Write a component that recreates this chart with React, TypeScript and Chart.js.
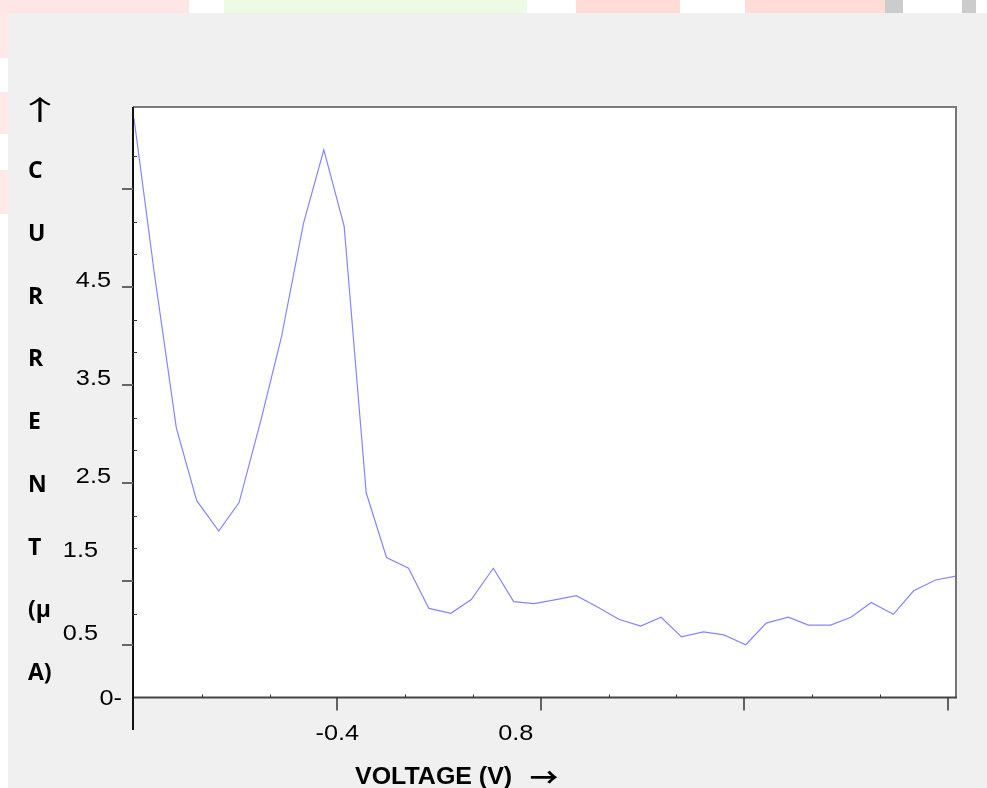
import React, { useEffect, useRef } from 'react';
import { Chart, registerables } from 'chart.js';

Chart.register(...registerables);

// ---- data ----
const voltageValues = [
  -1.6, -1.48, -1.35, -1.23, -1.1, -0.98, -0.85, -0.73, -0.6, -0.48,
  -0.36, -0.23, -0.11, 0.02, 0.14, 0.27, 0.39, 0.52, 0.64, 0.76,
  0.89, 1.01, 1.14, 1.26, 1.39, 1.51, 1.63, 1.76, 1.88, 2.01,
  2.13, 2.26, 2.38, 2.51, 2.63, 2.75, 2.88, 3.0, 3.13, 3.25,
];
const currentValues = [
  6.22, 4.64, 3.06, 2.32, 2.01, 2.3, 3.15, 3.99, 5.15, 5.9,
  5.12, 2.4, 1.74, 1.63, 1.22, 1.17, 1.31, 1.63, 1.29, 1.27,
  1.31, 1.35, 1.23, 1.11, 1.04, 1.13, 0.93, 0.98, 0.95, 0.85,
  1.07, 1.13, 1.05, 1.05, 1.13, 1.28, 1.16, 1.4, 1.51, 1.55,
];

const xMajorTickValues = [-1.6, -0.4, 0.8, 2.0, 3.2];
const xMinorTickValues = [-1.2, -0.8, 0.0, 0.4, 1.2, 1.6, 2.4, 2.8];
const xTickLabels = ['-0.4', '0.8'];
const xTickLabelValues = [-0.4, 0.8];

const yMajorTickValues = [5.5, 4.5, 3.5, 2.5, 1.5, 0.847];
const yMinorTickValues = [5.833, 5.167, 4.833, 4.167, 3.833, 3.167, 2.833, 2.167, 1.833, 1.167];
const yTickLabels = ['4.5', '3.5', '2.5', '1.5', '0.5', '0-'];
const yTickLabelValues = [4.5, 3.5, 2.5, 1.745, 0.898, 0.235];

const yTitleLetters = ['C', 'U', 'R', 'R', 'E', 'N', 'T', '(\u00b5', 'A)'];
const xTitle = 'VOLTAGE (V)';

// ---- styles ----
const xLabelShift = [0, -25];
const yLabelRightShift = [-23, -23, -23, -36, -36, -12];
const tickFont = '22px "Liberation Sans", Arial, sans-serif';

function drawText(
  ctx: CanvasRenderingContext2D,
  txt: string,
  x: number,
  y: number,
  font: string,
  align: CanvasTextAlign,
  sx: number,
  baseline: CanvasTextBaseline = 'alphabetic'
) {
  ctx.save();
  ctx.translate(x, y);
  ctx.scale(sx, 1);
  ctx.font = font;
  ctx.textAlign = align;
  ctx.textBaseline = baseline;
  ctx.fillStyle = '#000';
  ctx.fillText(txt, 0, 0);
  ctx.restore();
}

const decorPlugin = {
  id: 'decor',
  beforeDraw(chart: any) {
    const { ctx, chartArea: a } = chart;
    ctx.save();
    ctx.fillStyle = '#ffffff';
    ctx.fillRect(a.left, a.top, a.right - a.left, a.bottom - a.top);
    ctx.restore();
  },
  afterDatasetsDraw(chart: any) {
    const { ctx, chartArea: a } = chart;
    const xs = chart.scales.x;
    const ys = chart.scales.y;
    const L = a.left - 1;
    const B = a.bottom - 0.5;
    ctx.save();
    // top border
    ctx.strokeStyle = '#555';
    ctx.lineWidth = 1.5;
    ctx.beginPath();
    ctx.moveTo(L, a.top);
    ctx.lineTo(a.right + 1, a.top);
    ctx.stroke();
    // right border
    ctx.strokeStyle = '#777';
    ctx.lineWidth = 2;
    ctx.beginPath();
    ctx.moveTo(a.right, a.top);
    ctx.lineTo(a.right, a.bottom);
    ctx.stroke();
    // bottom axis
    ctx.strokeStyle = '#444';
    ctx.lineWidth = 2;
    ctx.beginPath();
    ctx.moveTo(L, B);
    ctx.lineTo(a.right + 1, B);
    ctx.stroke();
    // left axis (extends below)
    ctx.strokeStyle = '#111';
    ctx.lineWidth = 2;
    ctx.beginPath();
    ctx.moveTo(L, a.top);
    ctx.lineTo(L, a.bottom + 32);
    ctx.stroke();

    // y major ticks (outside)
    ctx.strokeStyle = '#666';
    ctx.lineWidth = 2;
    yMajorTickValues.forEach((v) => {
      const py = Math.round(ys.getPixelForValue(v));
      ctx.beginPath();
      ctx.moveTo(L - 11, py);
      ctx.lineTo(L, py);
      ctx.stroke();
    });
    // y minor ticks (inside)
    ctx.strokeStyle = '#333';
    ctx.lineWidth = 1;
    yMinorTickValues.forEach((v) => {
      const py = Math.round(ys.getPixelForValue(v)) + 0.5;
      ctx.beginPath();
      ctx.moveTo(L, py);
      ctx.lineTo(L + 4, py);
      ctx.stroke();
    });
    // x major ticks (outside)
    ctx.strokeStyle = '#333';
    ctx.lineWidth = 1.5;
    xMajorTickValues.forEach((v, i) => {
      if (i === 0) return;
      const px = Math.round(xs.getPixelForValue(v));
      ctx.beginPath();
      ctx.moveTo(px, B);
      ctx.lineTo(px, B + 13);
      ctx.stroke();
    });
    // x minor ticks (inside)
    ctx.lineWidth = 1;
    xMinorTickValues.forEach((v) => {
      const px = Math.round(xs.getPixelForValue(v)) + 0.5;
      ctx.beginPath();
      ctx.moveTo(px, B - 3);
      ctx.lineTo(px, B);
      ctx.stroke();
    });
    ctx.restore();

    // tick labels
    xTickLabels.forEach((t, i) => {
      const px = xs.getPixelForValue(xTickLabelValues[i]) + xLabelShift[i];
      drawText(ctx, t, px, 740, tickFont, 'center', 1.15);
    });
    yTickLabels.forEach((t, i) => {
      const py = ys.getPixelForValue(yTickLabelValues[i]);
      drawText(ctx, t, a.left + yLabelRightShift[i], py, tickFont, 'right', 1.15);
    });

    // y title (vertical letters)
    drawText(ctx, '\u2191', 40, 110, '27px "Noto Sans CJK SC", "DejaVu Sans", sans-serif', 'center', 1.7, 'middle');
    yTitleLetters.forEach((t, i) => {
      drawText(ctx, t, 28, 178 + i * 62.75, 'bold 23px "Open Sans", "Noto Sans", sans-serif', 'left', 1);
    });
    // x title
    drawText(ctx, xTitle, 355, 784, 'bold 24px "Liberation Sans", Arial, sans-serif', 'left', 1.04);
    drawText(ctx, '\u2192', 544, 777, 'bold 26px "Noto Sans CJK SC", "DejaVu Sans", sans-serif', 'center', 1.1, 'middle');
  },
};

export default function App() {
  const canvasRef = useRef<HTMLCanvasElement | null>(null);

  useEffect(() => {
    if (!canvasRef.current) return;
    const data = voltageValues.map((v, i) => ({ x: v, y: currentValues[i] }));
    const chart = new Chart(canvasRef.current, {
      type: 'line',
      data: {
        datasets: [
          {
            label: 'Current',
            data,
            borderColor: '#8585ff',
            borderWidth: 1.2,
            pointRadius: 0,
            tension: 0,
            fill: false,
          },
        ],
      },
      options: {
        responsive: false,
        animation: false,
        layout: { padding: { left: 134, top: 107, right: 31, bottom: 90 } },
        plugins: { legend: { display: false }, tooltip: { enabled: false } },
        scales: {
          x: { type: 'linear', min: -1.6, max: 3.25, display: false },
          y: { type: 'linear', min: 0.306, max: 6.337, display: false },
        },
      },
      plugins: [decorPlugin],
    });
    return () => chart.destroy();
  }, []);

  const strip = (left: number, width: number, color: string, top = 0, height = 13) => (
    <div style={{ position: 'absolute', left, top, width, height, background: color }} />
  );

  return (
    <div style={{ position: 'absolute', left: 0, top: 0, width: 987, height: 788, overflow: 'hidden', background: '#ffffff' }}>
      {strip(0, 189, '#ffe6e6')}
      {strip(224, 303, '#edfbe5')}
      {strip(576, 104, '#ffdcd5')}
      {strip(745, 142, '#ffdcd5')}
      {strip(885, 18, '#cccccc', 0, 13)}
      {strip(962, 14, '#cccccc', 0, 13)}
      {strip(0, 8, '#ffe8e8', 13, 45)}
      {strip(0, 8, '#ffe8e8', 92, 42)}
      {strip(0, 8, '#ffe8e8', 170, 44)}
      <div style={{ position: 'absolute', left: 8, top: 13, width: 979, height: 775, background: '#f0f0f0' }} />
      <canvas ref={canvasRef} width={987} height={788} style={{ position: 'absolute', left: 0, top: 0 }} />
    </div>
  );
}
